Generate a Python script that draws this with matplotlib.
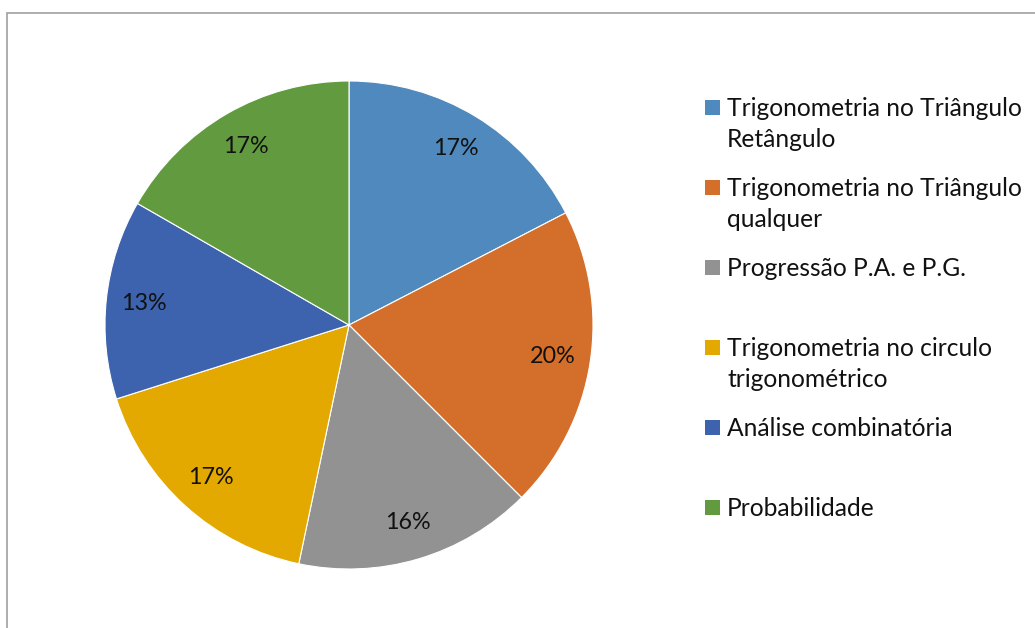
import matplotlib.pyplot as plt
from matplotlib.patches import Rectangle

# Dados do gráfico
categorias = [
    'Trigonometria no Triângulo\nRetângulo',
    'Trigonometria no Triângulo\nqualquer',
    'Progressão P.A. e P.G.',
    'Trigonometria no circulo\ntrigonométrico',
    'Análise combinatória',
    'Probabilidade',
]
percentuais = [17.4, 20.1, 15.8, 16.8, 13.2, 16.7]
cores = ['#4F89BD', '#D46E2B', '#929292', '#E3A900', '#3E63AE', '#629B3F']

W, H = 1035, 628
fig = plt.figure(figsize=(W / 100, H / 100), dpi=100)
plt.rcParams['font.family'] = ['Lato', 'DejaVu Sans']

# moldura do gráfico (só topo e esquerda aparecem)
fig.patches.append(Rectangle((7 / W, -0.1), 1.1, 1 - 13 / H + 0.1, transform=fig.transFigure,
                             fill=False, edgecolor='#A0A0A0', linewidth=1.2))

# eixo da pizza
cx, cy, r = 349, 325, 244
ax = fig.add_axes([(cx - r) / W, (H - cy - r) / H, 2 * r / W, 2 * r / H])
wedges, texts, autotexts = ax.pie(
    percentuais, colors=cores, startangle=90, counterclock=False,
    autopct='%.0f%%', pctdistance=0.845, radius=1,
    wedgeprops=dict(edgecolor='white', linewidth=0.8),
    textprops=dict(fontsize=16.8, color='#111111'))
ax.set_xlim(-1, 1)
ax.set_ylim(-1, 1)
ax.set_aspect('equal')
ax.axis('off')

# legenda manual
base0, passo, entrelinha = 116, 80, 31
for i, (nome, cor) in enumerate(zip(categorias, cores)):
    base = base0 + i * passo
    fig.patches.append(Rectangle((705 / W, (H - base + 1) / H), 15 / W, 15 / H,
                                 transform=fig.transFigure, facecolor=cor, edgecolor='none'))
    for j, linha in enumerate(nome.split('\n')):
        fig.text(727 / W, (H - base - j * entrelinha) / H, linha, fontsize=17.7,
                 va='baseline', ha='left', color='#111111')

fig.savefig('out.png', dpi=100)
